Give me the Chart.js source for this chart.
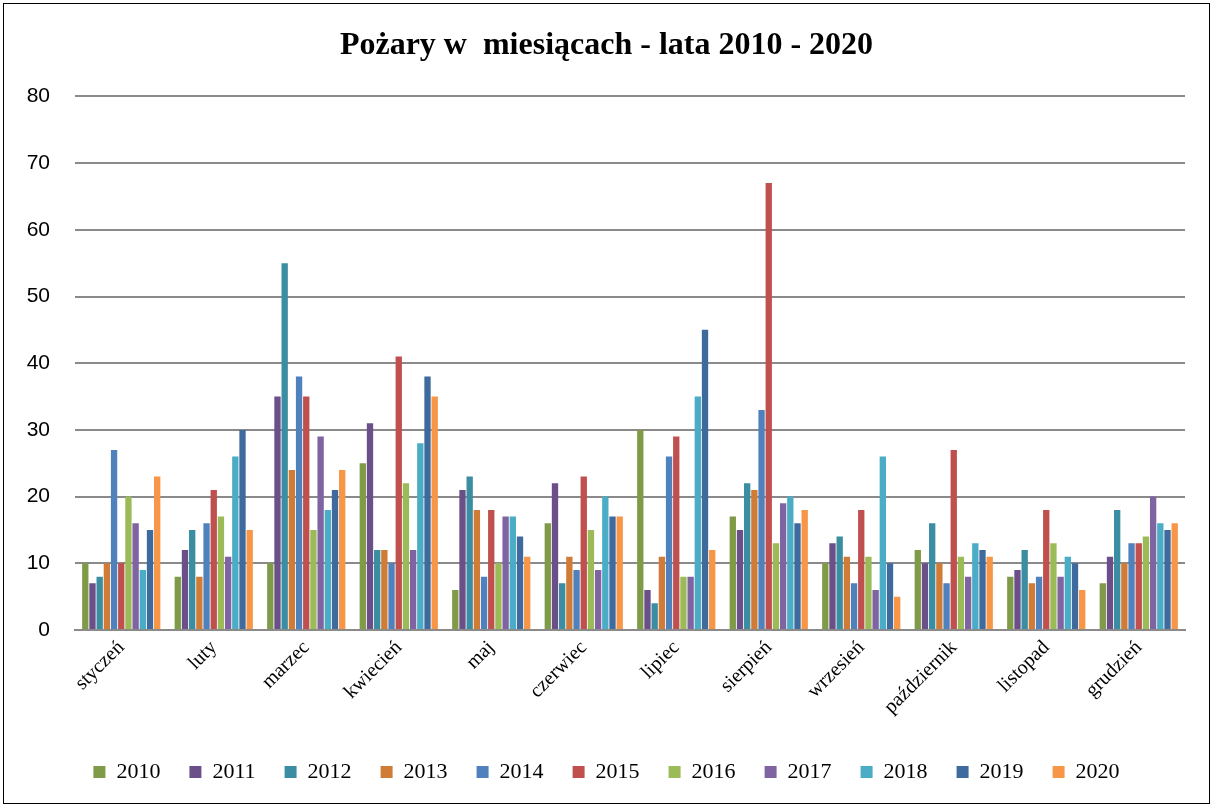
<!DOCTYPE html>
<html>
<head>
<meta charset="utf-8">
<script src="https://cdn.jsdelivr.net/npm/chart.js@4/dist/chart.umd.min.js"></script>
<style>
  html, body { margin: 0; padding: 0; background: #fff; }
  #wrap { width: 1213px; height: 807px; }
</style>
</head>
<body>
<div id="wrap"><canvas id="myBarChart" width="1213" height="807"></canvas></div>
<script>
// months (x axis)
const months = ['styczeń', 'luty', 'marzec', 'kwiecień', 'maj', 'czerwiec',
    'lipiec', 'sierpień', 'wrzesień', 'październik', 'listopad', 'grudzień'];

// fires per month, one array per year
const y2010 = [10, 8, 10, 25, 6, 16, 30, 17, 10, 12, 8, 7];
const y2011 = [7, 12, 35, 31, 21, 22, 6, 15, 13, 10, 9, 11];
const y2012 = [8, 15, 55, 12, 23, 7, 4, 22, 14, 16, 12, 18];
const y2013 = [10, 8, 24, 12, 18, 11, 11, 21, 11, 10, 7, 10];
const y2014 = [27, 16, 38, 10, 8, 9, 26, 33, 7, 7, 8, 13];
const y2015 = [10, 21, 35, 41, 18, 23, 29, 67, 18, 27, 18, 13];
const y2016 = [20, 17, 15, 22, 10, 15, 8, 13, 11, 11, 13, 14];
const y2017 = [16, 11, 29, 12, 17, 9, 8, 19, 6, 8, 8, 20];
const y2018 = [9, 26, 18, 28, 17, 20, 35, 20, 26, 13, 11, 16];
const y2019 = [15, 30, 21, 38, 14, 17, 45, 16, 10, 12, 10, 15];
const y2020 = [23, 15, 24, 35, 11, 17, 12, 18, 5, 11, 6, 16];

const years = ['2010', '2011', '2012', '2013', '2014', '2015', '2016', '2017', '2018', '2019', '2020'];
const yearData = [y2010, y2011, y2012, y2013, y2014, y2015, y2016, y2017, y2018, y2019, y2020];
const yearColors = ['#7f9b48', '#6a4f89', '#3b8ea2', '#d07c36', '#4f81bd', '#c0504d',
    '#9bbb59', '#8064a2', '#4bacc6', '#3f6a9d', '#f79646'];

const yTicks = [0, 10, 20, 30, 40, 50, 60, 70, 80];

// white page + thin black frame round the chart
const framePlugin = {
    id: 'frame',
    beforeDraw(chart) {
        const ctx = chart.ctx;
        ctx.save();
        ctx.fillStyle = '#ffffff';
        ctx.fillRect(0, 0, chart.width, chart.height);
        ctx.strokeStyle = '#000000';
        ctx.lineWidth = 1;
        ctx.strokeRect(3.5, 3.5, chart.width - 7, chart.height - 7);
        ctx.restore();
    }
};

const ctx = document.getElementById('myBarChart').getContext('2d');
new Chart(ctx, {
    type: 'bar',
    data: {
        labels: months,
        datasets: years.map((yr, i) => ({
            label: yr,
            data: yearData[i],
            backgroundColor: yearColors[i],
            borderWidth: 0,
            categoryPercentage: 0.855,
            barPercentage: 0.88
        }))
    },
    options: {
        responsive: false,
        animation: false,
        layout: {
            padding: { left: 0, right: 0, top: 0, bottom: 14 }
        },
        plugins: {
            title: {
                display: true,
                text: 'Pożary w  miesiącach - lata 2010 - 2020',
                color: '#000',
                font: { family: 'Liberation Serif', size: 32, weight: 'bold' },
                padding: { top: 27, bottom: 31 }
            },
            legend: {
                position: 'bottom',
                labels: {
                    color: '#000',
                    font: { family: 'Liberation Serif', size: 22 },
                    boxWidth: 12,
                    boxHeight: 12,
                    padding: 29
                }
            },
            tooltip: { enabled: false }
        },
        scales: {
            x: {
                grid: { display: false, drawTicks: false },
                border: { display: true, color: '#8a8a8a', width: 2 },
                ticks: {
                    color: '#000',
                    font: { family: 'Liberation Serif', size: 20 },
                    autoSkip: false,
                    minRotation: 45,
                    maxRotation: 45,
                    padding: 6
                },
                afterFit(scale) { scale.height = 102; }
            },
            y: {
                min: 0,
                max: 80,
                afterBuildTicks(scale) { scale.ticks = yTicks.map(v => ({ value: v })); },
                grid: { color: '#8a8a8a', lineWidth: 2, drawTicks: false },
                border: { display: false },
                ticks: {
                    color: '#000',
                    font: { family: 'Liberation Sans', size: 21 },
                    padding: 25
                },
                afterFit(scale) { scale.width = 75; }
            },
            // empty right-hand strip, keeps the plot off the right frame
            yRight: {
                position: 'right',
                display: true,
                min: 0,
                max: 80,
                grid: { display: false, drawTicks: false },
                border: { display: false },
                ticks: { display: false },
                afterFit(scale) { scale.width = 28; }
            }
        }
    },
    plugins: [framePlugin]
});
</script>
</body>
</html>
